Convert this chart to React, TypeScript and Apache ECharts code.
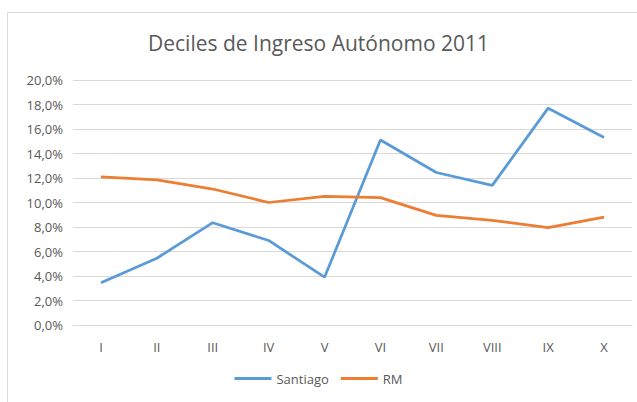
import React, { useEffect, useRef } from "react";
import * as echarts from "echarts";

const categories = ["I", "II", "III", "IV", "V", "VI", "VII", "VIII", "IX", "X"];
const santiago = [3.45, 5.45, 8.35, 6.9, 3.9, 15.1, 12.45, 11.4, 17.7, 15.3];
const rm = [12.1, 11.85, 11.1, 10.0, 10.5, 10.4, 8.95, 8.55, 7.95, 8.8];
const seriesNames = ["Santiago", "RM"];
const title = "Deciles de Ingreso Autónomo 2011";

export default function App() {
  const ref = useRef<HTMLDivElement>(null);
  useEffect(() => {
    if (!ref.current) return;
    const chart = echarts.init(ref.current, null, { renderer: "svg" });
    const font = "'Open Sans', 'Liberation Sans', sans-serif";
    chart.setOption({
      animation: false,
      backgroundColor: "#ffffff",
      textStyle: { fontFamily: font },
      title: {
        text: title,
        left: "center",
        top: 27,
        textStyle: { fontSize: 21, fontWeight: "normal", color: "#595959", fontFamily: font },
      },
      graphic: [
        {
          type: "rect",
          shape: { x: 7.5, y: 12.5, width: 640, height: 400 },
          style: { fill: "none", stroke: "#d9d9d9", lineWidth: 1 },
          silent: true,
        },
      ],
      legend: {
        bottom: 12,
        left: "center",
        itemWidth: 37,
        itemHeight: 3,
        itemGap: 12,
        icon: "rect",
        textStyle: { fontSize: 13, color: "#595959", fontFamily: font },
        data: seriesNames,
      },
      grid: { left: 73, right: 5, top: 80, bottom: 77 },
      xAxis: {
        type: "category",
        data: categories,
        boundaryGap: true,
        axisLine: { lineStyle: { color: "#d9d9d9" } },
        axisTick: { show: false },
        axisLabel: { color: "#595959", fontSize: 13, margin: 15 },
      },
      yAxis: {
        type: "value",
        min: 0,
        max: 20,
        interval: 2,
        axisLine: { show: false },
        axisTick: { show: false },
        splitLine: { lineStyle: { color: "#d9d9d9" } },
        axisLabel: {
          color: "#595959",
          fontSize: 13,
          margin: 10,
          formatter: (v: number) => v.toFixed(1).replace(".", ",") + "%",
        },
      },
      series: [
        {
          name: seriesNames[0],
          type: "line",
          data: santiago,
          symbol: "none",
          lineStyle: { color: "#5b9bd5", width: 2.75 },
          itemStyle: { color: "#5b9bd5" },
        },
        {
          name: seriesNames[1],
          type: "line",
          data: rm,
          symbol: "none",
          lineStyle: { color: "#ed7d31", width: 2.75 },
          itemStyle: { color: "#ed7d31" },
        },
      ],
    });
    return () => chart.dispose();
  }, []);
  return (
    <div
      ref={ref}
      style={{ position: "fixed", left: 0, top: 0, width: 637, height: 402 }}
    />
  );
}
